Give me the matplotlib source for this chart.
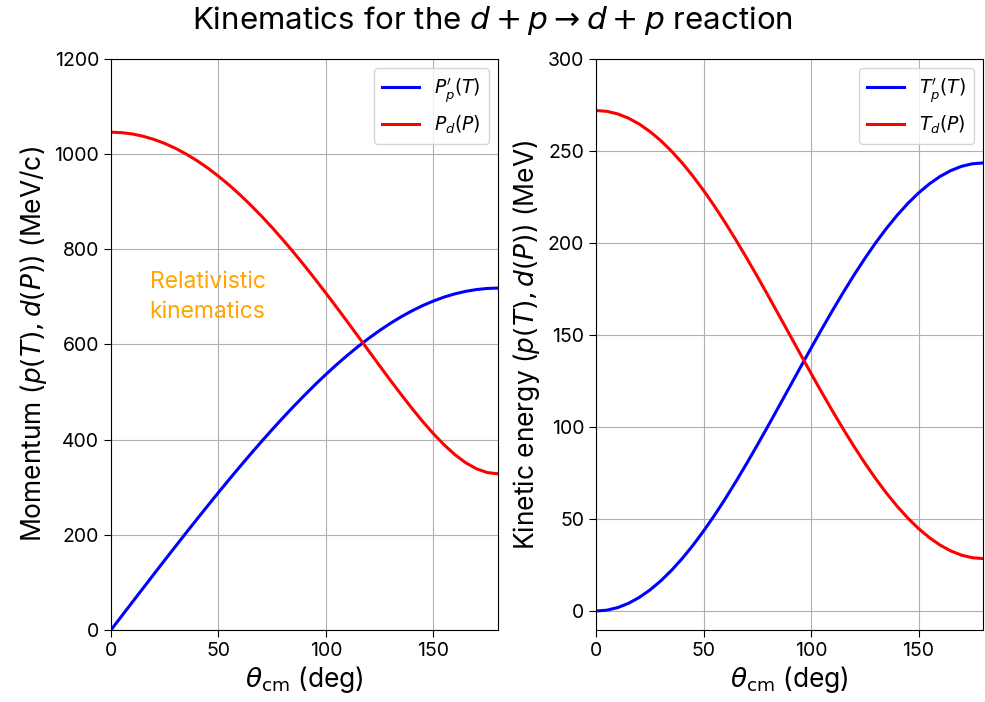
import matplotlib
matplotlib.use("Agg")
import matplotlib.pyplot as plt
from matplotlib.ticker import MultipleLocator

# Centre-of-mass scattering angle (deg)
theta_cm = [0, 5, 10, 15, 20, 25, 30, 35, 40, 45, 50, 55, 60, 65, 70, 75, 80, 85, 90,
            95, 100, 105, 110, 115, 120, 125, 130, 135, 140, 145, 150, 155, 160, 165,
            170, 175, 180]

# Lab momenta (MeV/c)
p_proton = [0.0, 29.5, 58.9, 88.3, 117.6, 146.8, 175.7, 204.5, 232.9, 261.1, 289.0,
            316.4, 343.4, 369.9, 395.9, 421.3, 446.0, 470.0, 493.2, 515.7, 537.2,
            557.8, 577.3, 595.8, 613.2, 629.5, 644.5, 658.2, 670.6, 681.7, 691.3,
            699.6, 706.4, 711.6, 715.4, 717.7, 718.5]
p_deuteron = [1046.1, 1045.1, 1042.3, 1037.5, 1030.9, 1022.5, 1012.2, 1000.1, 986.3,
              970.8, 953.6, 934.9, 914.6, 892.9, 869.9, 845.5, 819.9, 793.3, 765.6,
              737.1, 707.8, 677.9, 647.5, 616.7, 585.9, 555.1, 524.6, 494.8, 465.8,
              438.2, 412.4, 389.0, 368.4, 351.5, 338.8, 330.9, 328.2]

# Lab kinetic energies (MeV)
t_proton = [0.0, 0.46, 1.85, 4.15, 7.34, 11.41, 16.31, 22.02, 28.48, 35.66, 43.49,
            51.92, 60.88, 70.30, 80.11, 90.24, 100.61, 111.14, 121.75, 132.36, 142.89,
            153.26, 163.39, 173.20, 182.63, 191.58, 200.01, 207.84, 215.02, 221.48,
            227.19, 232.09, 236.16, 239.35, 241.65, 243.04, 243.5]
t_deuteron = [272.0, 271.54, 270.15, 267.85, 264.66, 260.59, 255.69, 249.98, 243.52,
              236.34, 228.51, 220.08, 211.13, 201.70, 191.89, 181.76, 171.39, 160.86,
              150.25, 139.64, 129.11, 118.74, 108.61, 98.80, 89.38, 80.42, 71.99, 64.16,
              56.98, 50.52, 44.81, 39.91, 35.84, 32.65, 30.35, 28.96, 28.5]

plt.rcParams["font.family"] = ["Inter", "DejaVu Sans"]
plt.rcParams["mathtext.fontset"] = "dejavusans"

fig, (ax1, ax2) = plt.subplots(1, 2, figsize=(9.85, 7.02), dpi=100)
fig.subplots_adjust(left=0.1127, right=0.998, bottom=0.1026, top=0.916, wspace=0.254)

ax1.plot(theta_cm, p_proton, color="blue", lw=2.2, label=r"$P^{\prime}_p(T)$")
ax1.plot(theta_cm, p_deuteron, color="red", lw=2.2, label=r"$P_d(P)$")
ax1.set_xlim(0, 180)
ax1.set_ylim(0, 1200)
ax1.set_xlabel(r"$\theta_{\mathrm{cm}}$ (deg)", fontsize=19, labelpad=3)
ax1.set_ylabel(r"Momentum ($p(T), d(P)$) (MeV/c)", fontsize=19, labelpad=4)
ax1.text(18, 700, "Relativistic\nkinematics", color="orange", fontsize=16.5,
         linespacing=1.45, va="center")
ax1.grid(True)
ax1.legend(loc="upper right", fontsize=13.5)

ax2.plot(theta_cm, t_proton, color="blue", lw=2.2, label=r"$T^{\prime}_p(T)$")
ax2.plot(theta_cm, t_deuteron, color="red", lw=2.2, label=r"$T_d(P)$")
ax2.set_xlim(0, 180)
ax2.set_ylim(-10.3, 300)
ax2.set_xlabel(r"$\theta_{\mathrm{cm}}$ (deg)", fontsize=19, labelpad=3)
ax2.set_ylabel(r"Kinetic energy ($p(T), d(P)$) (MeV)", fontsize=19, labelpad=4)
ax2.grid(True)
ax2.legend(loc="upper right", fontsize=13.5)

for ax in (ax1, ax2):
    ax.xaxis.set_major_locator(MultipleLocator(50))
    ax.tick_params(labelsize=14, length=5)

fig.suptitle(r"Kinematics for the $d + p \rightarrow d + p$ reaction", fontsize=22.5,
             y=0.995)

fig.savefig("out.png", dpi=100)
